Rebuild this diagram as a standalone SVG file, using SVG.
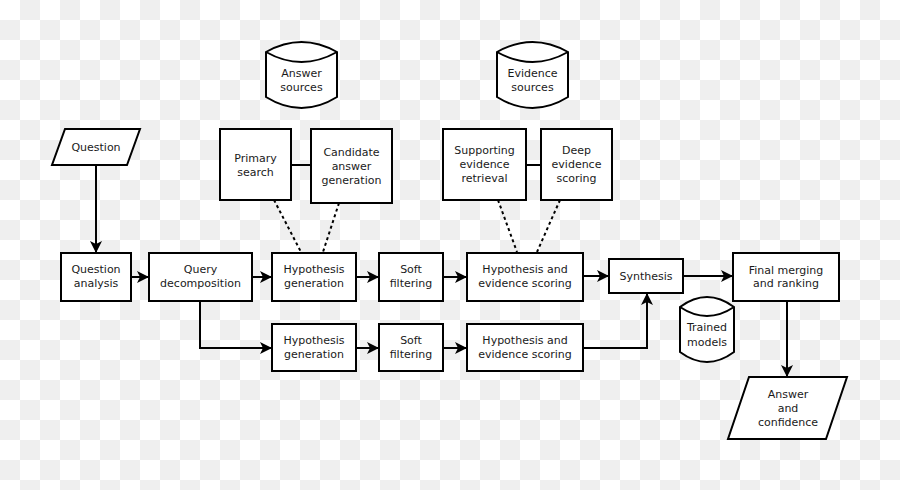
<svg xmlns="http://www.w3.org/2000/svg" width="900" height="490" viewBox="0 0 900 490">
<defs>
<pattern id="checker" x="0" y="0" width="40" height="40" patternUnits="userSpaceOnUse">
<rect x="0" y="0" width="40" height="40" fill="#ffffff"/>
<rect x="20" y="0" width="20" height="20" fill="#efefef"/>
<rect x="0" y="20" width="20" height="20" fill="#efefef"/>
</pattern>
<marker id="arr" viewBox="0 0 12 12" refX="12" refY="6" markerWidth="12" markerHeight="12" markerUnits="userSpaceOnUse" orient="auto">
<path d="M0,0 L12,6 L0,12 L3,6 z" fill="#000"/>
</marker>
<style>
.box{fill:#fff;stroke:#000;stroke-width:2}
.ln{fill:none;stroke:#000;stroke-width:2}
.dash{fill:none;stroke:#000;stroke-width:2;stroke-dasharray:3,3}
text{font-family:"DejaVu Sans","Liberation Sans",sans-serif;font-size:11px;fill:#1a1a1a;text-anchor:middle}
</style>
</defs>
<rect x="0" y="0" width="900" height="490" fill="url(#checker)"/>

<g id="connectors">
<path class="ln" d="M96,165 V253" marker-end="url(#arr)"/>
<path class="ln" d="M131,277 H149" marker-end="url(#arr)"/>
<path class="ln" d="M252,277 H272" marker-end="url(#arr)"/>
<path class="ln" d="M356,277 H379" marker-end="url(#arr)"/>
<path class="ln" d="M443,277 H467" marker-end="url(#arr)"/>
<path class="ln" d="M583,276 H609" marker-end="url(#arr)"/>
<path class="ln" d="M683,276 H733" marker-end="url(#arr)"/>
<path class="ln" d="M200,301 V348 H272" marker-end="url(#arr)"/>
<path class="ln" d="M356,348 H379" marker-end="url(#arr)"/>
<path class="ln" d="M443,348 H467" marker-end="url(#arr)"/>
<path class="ln" d="M583,348 H647 V293" marker-end="url(#arr)"/>
<path class="ln" d="M787,301 V377" marker-end="url(#arr)"/>
<path class="ln" d="M291,165 H311"/>
<path class="ln" d="M526,165 H541"/>
<path class="dash" d="M274,200 L301,252"/>
<path class="dash" d="M339,203 L323,252"/>
<path class="dash" d="M498,200 L517,252"/>
<path class="dash" d="M560,200 L537,252"/>
</g>

<g id="question">
<path class="box" d="M65,129 H140 L127,165 H52 Z"/>
<text x="96" y="151">Question</text>
</g>

<g id="answer-sources">
<path class="box" d="M266,52 Q301.5,32 337,52 V97 Q301.5,119 266,97 Z"/>
<path class="ln" d="M266,52 Q301.5,72 337,52"/>
<text x="301.5" y="77">Answer</text>
<text x="301.5" y="91">sources</text>
</g>

<g id="evidence-sources">
<path class="box" d="M497,52 Q532.5,32 568,52 V97 Q532.5,119 497,97 Z"/>
<path class="ln" d="M497,52 Q532.5,72 568,52"/>
<text x="532.5" y="77">Evidence</text>
<text x="532.5" y="91">sources</text>
</g>

<g id="primary-search">
<rect class="box" x="220" y="129" width="71" height="71"/>
<text x="255.5" y="162">Primary</text>
<text x="255.5" y="176">search</text>
</g>

<g id="candidate-answer-generation">
<rect class="box" x="311" y="129" width="81" height="74"/>
<text x="351.5" y="156">Candidate</text>
<text x="351.5" y="170">answer</text>
<text x="351.5" y="184">generation</text>
</g>

<g id="supporting-evidence-retrieval">
<rect class="box" x="443" y="129" width="83" height="71"/>
<text x="484.5" y="154">Supporting</text>
<text x="484.5" y="168">evidence</text>
<text x="484.5" y="182">retrieval</text>
</g>

<g id="deep-evidence-scoring">
<rect class="box" x="541" y="129" width="71" height="71"/>
<text x="576.5" y="154">Deep</text>
<text x="576.5" y="168">evidence</text>
<text x="576.5" y="182">scoring</text>
</g>

<g id="question-analysis">
<rect class="box" x="61" y="253" width="70" height="48"/>
<text x="96" y="273">Question</text>
<text x="96" y="287">analysis</text>
</g>

<g id="query-decomposition">
<rect class="box" x="149" y="253" width="103" height="48"/>
<text x="200.5" y="273">Query</text>
<text x="200.5" y="287">decomposition</text>
</g>

<g id="hypothesis-generation-1">
<rect class="box" x="272" y="253" width="84" height="48"/>
<text x="314" y="273">Hypothesis</text>
<text x="314" y="287">generation</text>
</g>

<g id="soft-filtering-1">
<rect class="box" x="379" y="253" width="64" height="48"/>
<text x="411" y="273">Soft</text>
<text x="411" y="287">filtering</text>
</g>

<g id="hypothesis-evidence-scoring-1">
<rect class="box" x="467" y="253" width="116" height="48"/>
<text x="525" y="273">Hypothesis and</text>
<text x="525" y="287">evidence scoring</text>
</g>

<g id="hypothesis-generation-2">
<rect class="box" x="272" y="324" width="84" height="47"/>
<text x="314" y="344">Hypothesis</text>
<text x="314" y="358">generation</text>
</g>

<g id="soft-filtering-2">
<rect class="box" x="379" y="324" width="64" height="47"/>
<text x="411" y="344">Soft</text>
<text x="411" y="358">filtering</text>
</g>

<g id="hypothesis-evidence-scoring-2">
<rect class="box" x="467" y="324" width="116" height="47"/>
<text x="525" y="344">Hypothesis and</text>
<text x="525" y="358">evidence scoring</text>
</g>

<g id="synthesis">
<rect class="box" x="609" y="259" width="74" height="34"/>
<text x="646" y="280">Synthesis</text>
</g>

<g id="final-merging">
<rect class="box" x="733" y="253" width="106" height="48"/>
<text x="786" y="274">Final merging</text>
<text x="786" y="287">and ranking</text>
</g>

<g id="trained-models">
<path class="box" d="M680,307 Q707,287 734,307 V352 Q707,372 680,352 Z"/>
<path class="ln" d="M680,307 Q707,325 734,307"/>
<text x="707" y="331">Trained</text>
<text x="707" y="346">models</text>
</g>

<g id="answer-confidence">
<path class="box" d="M749,377 H847 L826,439 H728 Z"/>
<text x="788" y="398">Answer</text>
<text x="788" y="412">and</text>
<text x="788" y="426">confidence</text>
</g>
</svg>
